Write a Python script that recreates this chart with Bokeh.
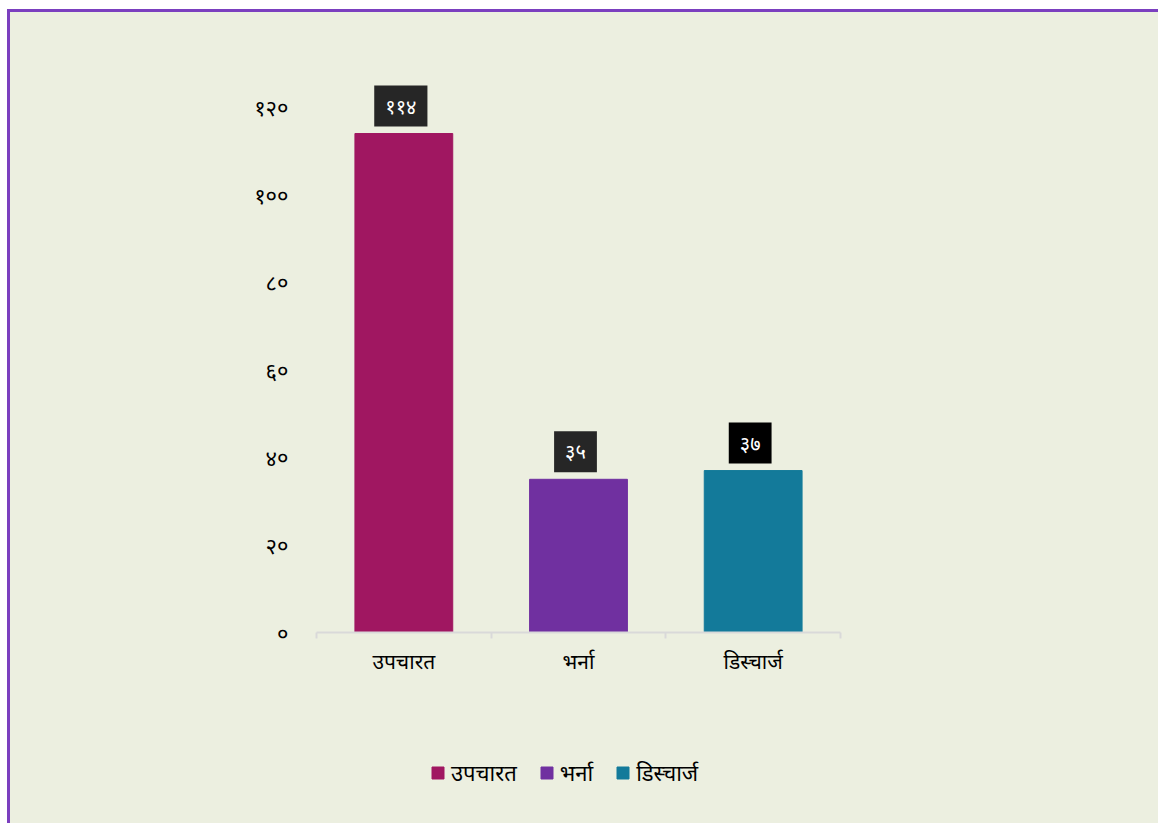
from bokeh.plotting import figure
from bokeh.models import (ColumnDataSource, Range1d, FixedTicker, Legend, LegendItem)
from bokeh.layouts import column
from bokeh.embed import file_html
from bokeh.resources import INLINE
from bokeh.core.properties import value

categories = ["उपचारत", "भर्ना", "डिस्चार्ज"]
values = [114, 35, 37]
value_labels = ["११४", "३५", "३७"]
colors = ["#A01761", "#7030A0", "#137A9A"]
label_bg = ["#262626", "#262626", "#000000"]
y_ticks = [0, 20, 40, 60, 80, 100, 120]
y_tick_labels = ["०", "२०", "४०", "६०", "८०", "१००", "१२०"]

FONT = "Noto Sans"
BG = "#ECEFE0"

xs = [i + 0.5 for i in range(len(categories))]
src = ColumnDataSource(dict(x=xs, top=values, cat=categories, color=colors,
                            lab=value_labels, lbg=label_bg))

W = 1148
H_MAIN = 711
H_LEG = 100

p = figure(width=W, height=H_MAIN, output_backend="svg", toolbar_location=None,
           x_range=Range1d(0, 3), y_range=Range1d(0, 130),
           min_border_left=306, min_border_right=318, min_border_top=51,
           min_border_bottom=H_MAIN - 620)
p.background_fill_color = BG
p.border_fill_color = BG
p.outline_line_color = None
p.xgrid.visible = False
p.ygrid.visible = False

r = p.vbar(x="x", top="top", width=0.56, color="color", source=src)

p.text(x="x", y="top", text="lab", source=src, text_align="center",
       text_baseline="bottom", y_offset=-7, x_offset=-3, text_color="white",
       text_font=value(FONT), text_font_size="20px",
       background_fill_color="lbg", padding=(11, 7))

# y axis
p.yaxis.ticker = FixedTicker(ticks=y_ticks)
p.yaxis.major_label_overrides = {t: l for t, l in zip(y_ticks, y_tick_labels)}
p.yaxis.axis_line_color = None
p.yaxis.major_tick_line_color = None
p.yaxis.minor_tick_line_color = None
p.yaxis.major_label_standoff = 22
p.yaxis.major_label_text_font = FONT
p.yaxis.major_label_text_font_size = "22px"
p.yaxis.major_label_text_color = "#000000"

# x axis
p.xaxis.ticker = FixedTicker(ticks=xs, minor_ticks=[0, 1, 2, 3])
p.xaxis.major_label_overrides = {x: c for x, c in zip(xs, categories)}
p.xaxis.axis_line_color = "#D9D9D9"
p.xaxis.axis_line_width = 2
p.xaxis.major_tick_line_color = None
p.xaxis.minor_tick_line_color = "#D9D9D9"
p.xaxis.minor_tick_line_width = 2
p.xaxis.minor_tick_out = 6
p.xaxis.minor_tick_in = 0
p.xaxis.major_label_standoff = 8
p.xaxis.major_label_text_font = FONT
p.xaxis.major_label_text_font_size = "21px"
p.xaxis.major_label_text_color = "#000000"

# legend figure (swatches taken from the same bar data, bars themselves out of view)
lg = figure(width=W, height=H_LEG, output_backend="svg", toolbar_location=None,
            x_range=Range1d(0, 3), y_range=Range1d(1000, 1001),
            min_border=0)
lg.background_fill_color = BG
lg.border_fill_color = BG
lg.outline_line_color = None
lg.axis.visible = False
lg.grid.visible = False
lr = lg.vbar(x="x", top="top", width=0.56, color="color", source=src)

items = [LegendItem(label=c, renderers=[lr], index=i) for i, c in enumerate(categories)]
legend = Legend(items=items, orientation="horizontal", location=(114, 36),
                label_text_font=FONT, label_text_font_size="22px",
                label_text_color="#000000",
                glyph_width=15, glyph_height=15, label_standoff=6, spacing=22,
                padding=6, border_line_color=None, background_fill_alpha=0)
lg.add_layout(legend, "center")

layout = column(p, lg, spacing=0)
layout.styles = {"border-left": "3px solid #7B3FBF", "border-top": "3px solid #7B3FBF",
                 "margin-left": "7px", "margin-top": "9px", "background-color": BG}

open("out.html", "w").write(file_html(layout, INLINE))
